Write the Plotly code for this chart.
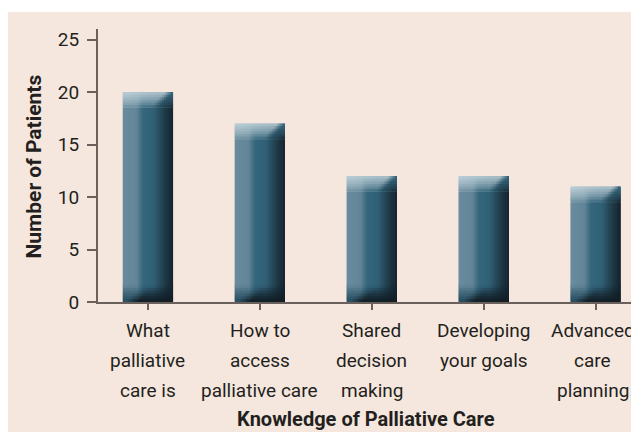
import plotly.graph_objects as go

categories = ["What<br>palliative<br>care is", "How to<br>access<br>palliative care",
              "Shared<br>decision<br>making", "Developing<br>your goals", "Advanced<br>care<br>planning"]
patients = [20, 17, 12, 12, 11]
y_ticks = [0, 5, 10, 15, 20, 25]
y_title = "Number of Patients"
x_title = "Knowledge of Palliative Care"

# figure geometry (the page keeps its default 8px body margin)
W, H = 631, 424
L, R, T, B = 90, 2, 21, 130
PW, PH = W - L - R, H - T - B
BAR_W = 0.45
N = 28
CAP = 1.5
FOOT = 1.6
SUB = 6

def lerp(c1, c2, t):
    t = max(0.0, min(1.0, t))
    return tuple(a + (b - a) * t for a, b in zip(c1, c2))

def ramp(stops, t):
    for (t1, c1), (t2, c2) in zip(stops, stops[1:]):
        if t <= t2:
            return lerp(c1, c2, (t - t1) / (t2 - t1))
    return stops[-1][1]

def body_color(t):
    return ramp([(0.0, (104, 140, 157)), (0.28, (98, 134, 152)), (0.40, (52, 102, 124)),
                 (0.62, (48, 96, 118)), (0.85, (30, 56, 70)), (1.0, (22, 36, 45))], t)

def cap_color(t, s):
    # s: 0 bottom of cap -> 1 top of cap
    p = 0.55 + 0.30 * s
    light = lerp((190, 207, 215), (174, 196, 206), t / 0.6)
    capright = (55, 104, 126)
    base = light if t < p else lerp(light, capright, (t - p) / 0.15)
    return lerp(body_color(t), base, s ** 0.7)

def foot_color(t, s):
    # s: 0 bottom of foot -> 1 top of foot
    q = 0.05 + 0.35 * s
    blue = (40, 78, 98)
    dark = (18, 30, 38)
    base = blue if t < q else lerp(blue, dark, (t - q) / 0.25)
    return lerp(base, body_color(t), s ** 1.3)

def rgb(c):
    return "rgb(%d,%d,%d)" % tuple(int(round(v)) for v in c)

xs = list(range(len(categories)))
n = len(patients)
fig = go.Figure()
sw = BAR_W / N
for i in range(N):
    t = (i + 0.5) / N
    off = -BAR_W / 2 + i * sw
    common = dict(x=xs, width=sw * (1.8 if i < N - 1 else 1.0), offset=off,
                  hoverinfo="skip", showlegend=False, marker_line_width=0)
    for k in range(SUB):
        s = (k + 0.5) / SUB
        fig.add_bar(y=[FOOT / SUB * 1.3] * n, base=[FOOT * k / SUB] * n,
                    marker_color=rgb(foot_color(t, s)), **common)
    fig.add_bar(y=[v - FOOT - CAP for v in patients], base=[FOOT] * n,
                marker_color=rgb(body_color(t)), **common)
    for k in range(SUB):
        s = (k + 0.5) / SUB
        fig.add_bar(y=[CAP / SUB * (1.3 if k < SUB - 1 else 1.0)] * n,
                    base=[v - CAP + CAP * k / SUB for v in patients],
                    marker_color=rgb(cap_color(t, s)), **common)

axis_col = "#6a605c"
text_col = "#231f20"
bg = "#f5e7dd"

annotations = [
    dict(text="<b>%s</b>" % y_title, textangle=-90, xref="paper", yref="paper",
         x=(25 - L) / PW, y=(H - B - 158.5) / PH, showarrow=False,
         font=dict(size=21), xanchor="center", yanchor="middle"),
    dict(text="<b>%s</b>" % x_title, xref="paper", yref="paper",
         x=(358 - L) / PW, y=(H - B - 411) / PH, showarrow=False,
         font=dict(size=20), xanchor="center", yanchor="middle"),
]
line_y = [322, 352, 382]
for xi, cat in zip(xs, categories):
    for j, line in enumerate(cat.split("<br>")):
        annotations.append(dict(text=line, xref="x", yref="paper", x=xi,
                                y=(H - B - line_y[j]) / PH, showarrow=False,
                                xshift=-3 if xi == xs[-1] else 0,
                                xanchor="center", yanchor="middle", font=dict(size=19)))

fig.update_layout(
    width=W, height=H, barmode="overlay",
    margin=dict(l=L, r=R, t=T, b=B, autoexpand=False),
    paper_bgcolor=bg, plot_bgcolor=bg,
    font=dict(family="Roboto, Open Sans, sans-serif", color=text_col, size=18),
    xaxis=dict(range=[-0.446, 4.37], tickmode="array", tickvals=xs,
               ticktext=[""] * len(xs),
               showline=True, linecolor=axis_col, linewidth=2, ticks="outside", ticklen=6,
               tickcolor=axis_col, tickwidth=2, showgrid=False, zeroline=False),
    yaxis=dict(range=[0, 26], tickmode="array", tickvals=y_ticks, ticks="outside",
               ticklen=9, tickcolor=axis_col, tickwidth=2, showline=True, linecolor=axis_col,
               linewidth=2, showgrid=False, zeroline=False, tickfont=dict(size=19),
               ticklabelstandoff=4),
    shapes=[dict(type="rect", xref="paper", yref="paper", layer="below",
                 x0=-L / PW - 0.01, x1=1 + R / PW + 0.01,
                 y0=1 + (T - 4) / PH, y1=1 + T / PH + 0.01,
                 fillcolor="white", line_width=0)],
    annotations=annotations,
)
fig.write_html("out.html",
               post_script="document.documentElement.style.overflow='hidden';"
                           "document.body.style.overflow='hidden';")
